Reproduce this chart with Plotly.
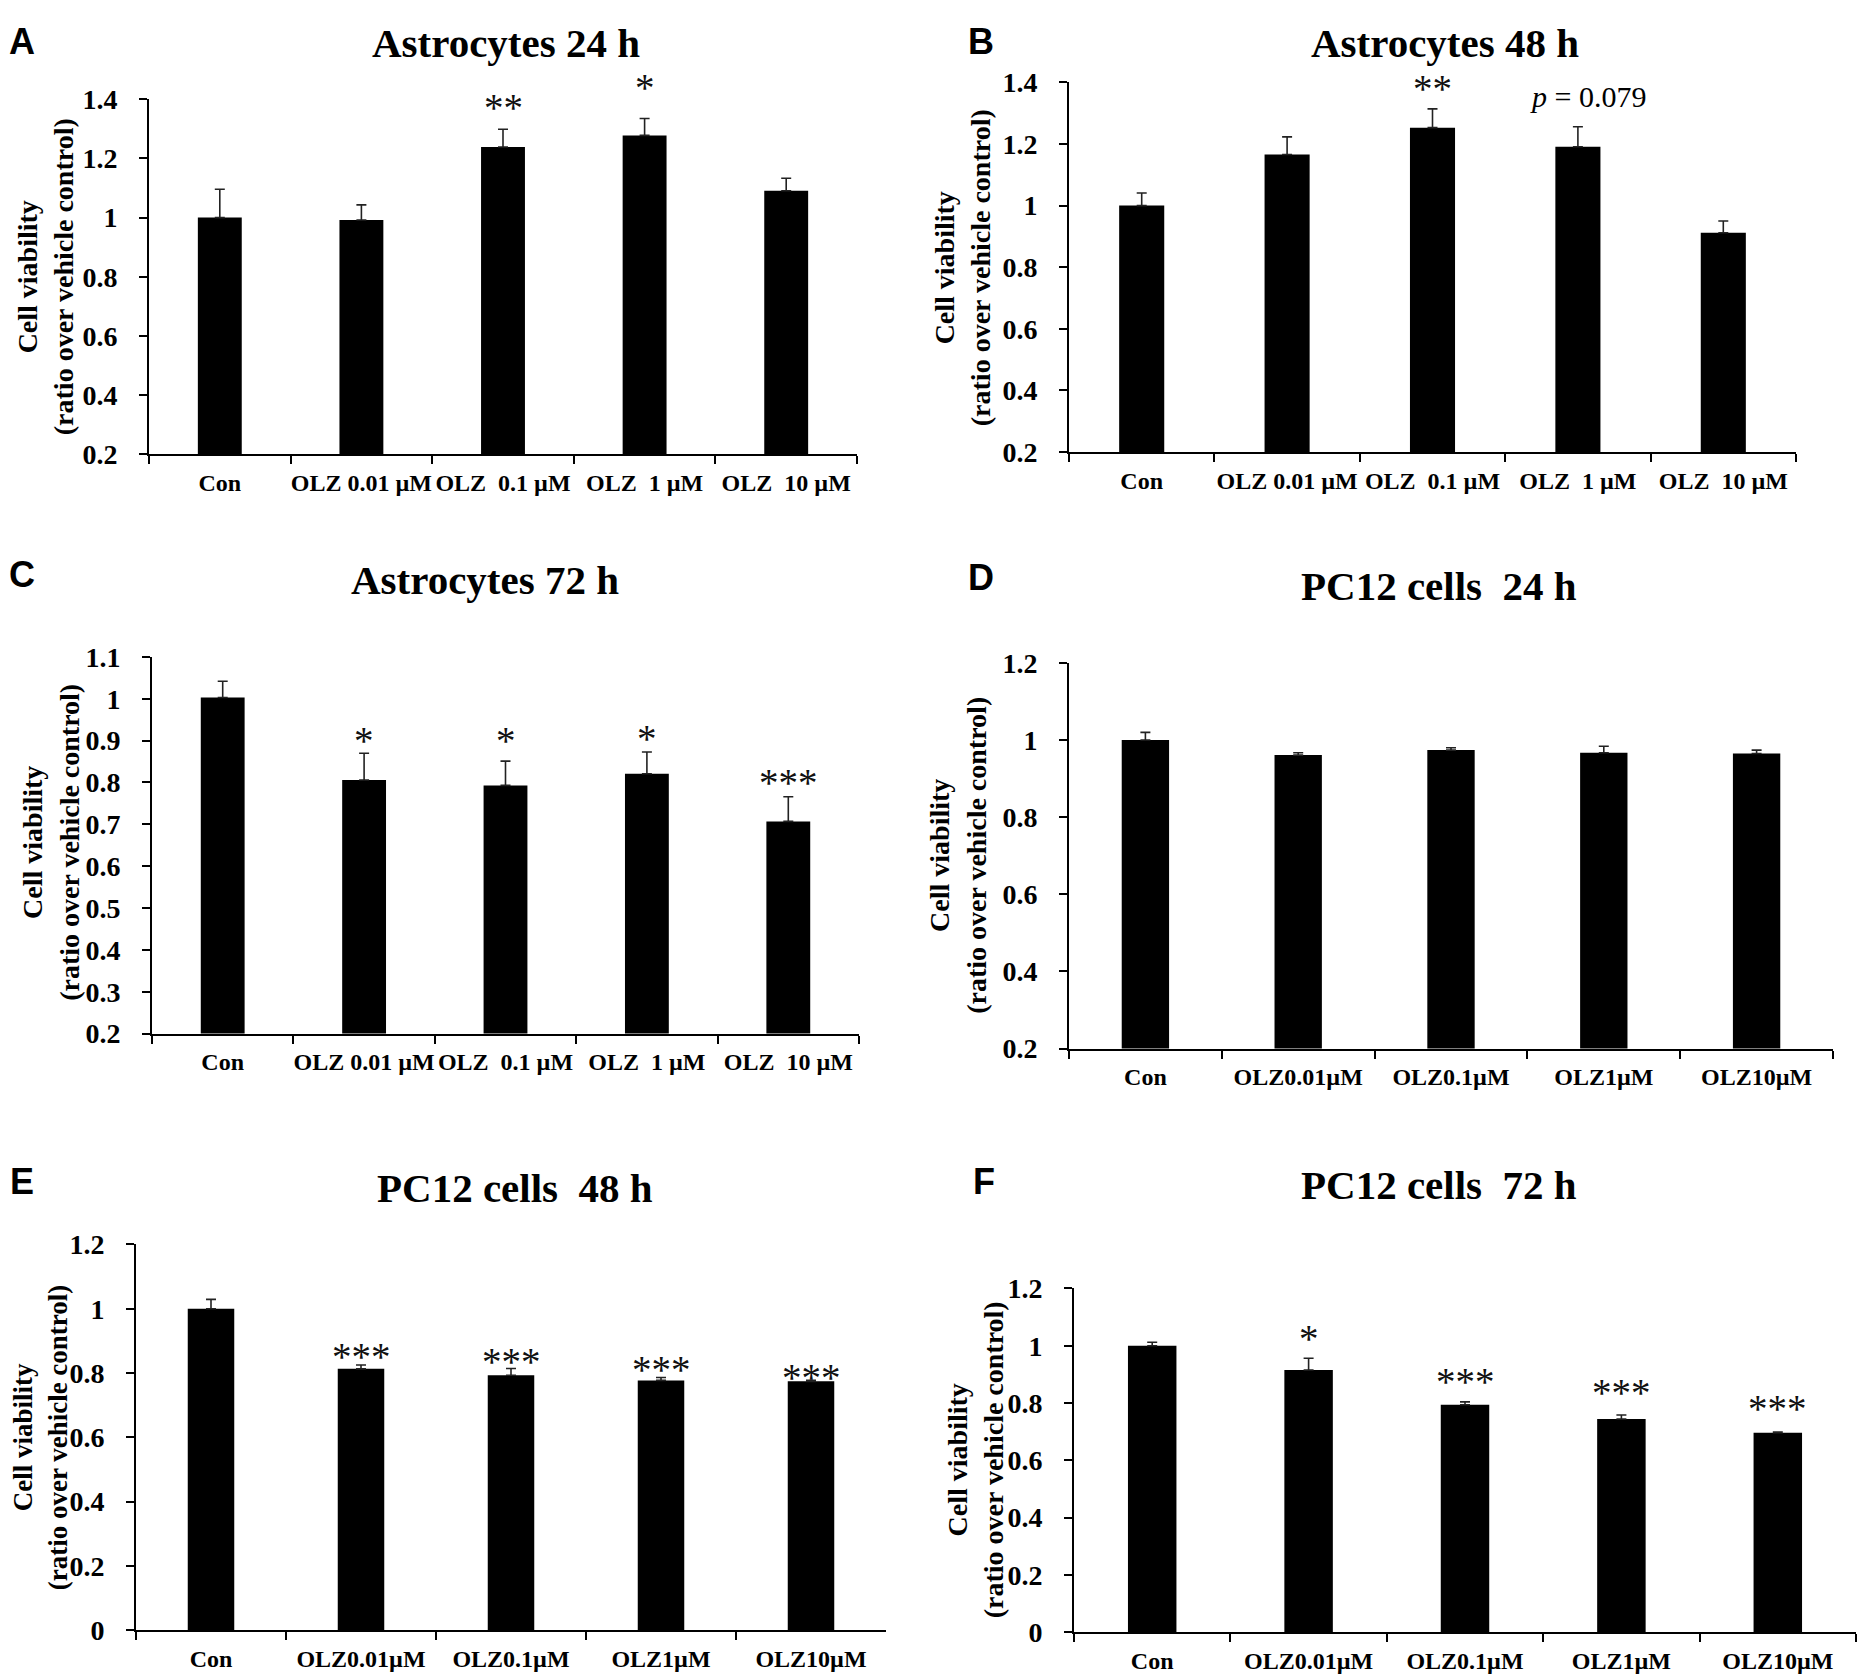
import plotly.graph_objects as go

# the picture is taken about 24px below the page top and a little taller than the reference,
# so reference pixel positions are mapped with a small vertical stretch
OFF_X, OFF_Y = 8, 24
Y_STRETCH = 1.018
W, H = 1866 - 2 * OFF_X, 1679
SERIF = "Liberation Serif"
SANS = "Liberation Sans"

astro_labels = ["Con", "OLZ 0.01 µM", "OLZ\u00a0 0.1 µM", "OLZ\u00a0 1 µM", "OLZ\u00a0 10 µM"]
pc12_labels = ["Con", "OLZ0.01µM", "OLZ0.1µM", "OLZ1µM", "OLZ10µM"]

astro_24h_mean = [1.0, 0.992, 1.239, 1.278, 1.091]
astro_24h_err = [0.096, 0.051, 0.060, 0.057, 0.042]
astro_48h_mean = [1.0, 1.166, 1.253, 1.191, 0.912]
astro_48h_err = [0.041, 0.057, 0.061, 0.065, 0.038]
astro_72h_mean = [1.003, 0.806, 0.793, 0.821, 0.707]
astro_72h_err = [0.039, 0.064, 0.058, 0.052, 0.059]
pc12_24h_mean = [1.0, 0.961, 0.974, 0.967, 0.965]
pc12_24h_err = [0.020, 0.006, 0.006, 0.017, 0.009]
pc12_48h_mean = [1.0, 0.813, 0.793, 0.777, 0.774]
pc12_48h_err = [0.029, 0.012, 0.021, 0.009, 0.003]
pc12_72h_mean = [1.0, 0.915, 0.794, 0.744, 0.696]
pc12_72h_err = [0.012, 0.041, 0.010, 0.014, 0.003]

# significance marks: (category index, text, y)
astro_24h_sig = [(2, "**", 1.389), (3, "*", 1.457)]
astro_48h_sig = [(2, "**", 1.395)]
astro_72h_sig = [(1, "*", 0.913), (2, "*", 0.913), (3, "*", 0.918), (4, "***", 0.813)]
pc12_24h_sig = []
pc12_48h_sig = [(1, "***", 0.867), (2, "***", 0.851), (3, "***", 0.826), (4, "***", 0.802)]
pc12_72h_sig = [(1, "*", 1.043), (2, "***", 0.892), (3, "***", 0.853), (4, "***", 0.798)]

# panel boxes in reference pixels: x0, x1, ytop, ybottom
panels = [
    dict(letter="A", title="Astrocytes 24 h", labels=astro_labels, mean=astro_24h_mean, err=astro_24h_err,
         sig=astro_24h_sig, yr=[0.2, 1.4], dt=0.2, box=(149, 857, 100, 455),
         title_xy=(506, 20), letter_xy=(22, 20), ytitle_xy=(45, 278), ytitle_size=28),
    dict(letter="B", title="Astrocytes 48 h", labels=astro_labels, mean=astro_48h_mean, err=astro_48h_err,
         sig=astro_48h_sig, yr=[0.2, 1.4], dt=0.2, box=(1069, 1796, 83, 453),
         title_xy=(1445, 22), letter_xy=(981, 20), ytitle_xy=(962, 268), ytitle_size=28),
    dict(letter="C", title="Astrocytes 72 h", labels=astro_labels, mean=astro_72h_mean, err=astro_72h_err,
         sig=astro_72h_sig, yr=[0.2, 1.1], dt=0.1, box=(152, 859, 658, 1035),
         title_xy=(485, 581), letter_xy=(22, 576), ytitle_xy=(51, 844), ytitle_size=28),
    dict(letter="D", title="PC12 cells\u00a0 24 h", labels=pc12_labels, mean=pc12_24h_mean, err=pc12_24h_err,
         sig=pc12_24h_sig, yr=[0.2, 1.2], dt=0.2, box=(1069, 1833, 664, 1050),
         title_xy=(1439, 587), letter_xy=(981, 579), ytitle_xy=(958, 857), ytitle_size=28),
    dict(letter="E", title="PC12 cells\u00a0 48 h", labels=pc12_labels, mean=pc12_48h_mean, err=pc12_48h_err,
         sig=pc12_48h_sig, yr=[0, 1.2], dt=0.2, box=(136, 886, 1246, 1632),
         title_xy=(515, 1190), letter_xy=(22, 1183), ytitle_xy=(40, 1439), ytitle_size=27),
    dict(letter="F", title="PC12 cells\u00a0 72 h", labels=pc12_labels, mean=pc12_72h_mean, err=pc12_72h_err,
         sig=pc12_72h_sig, yr=[0, 1.2], dt=0.2, box=(1074, 1856, 1290, 1634),
         title_xy=(1439, 1187), letter_xy=(984, 1183), ytitle_xy=(975, 1462), ytitle_size=28),
]


def px(x):
    return min(1.0, max(0.0, (x - OFF_X) / W))


def py(y, top_pad=0):
    fy = max(Y_STRETCH * y - OFF_Y, top_pad)
    return min(1.0, max(0.0, 1 - fy / H))


fig = go.Figure()
annotations = []
layout_axes = {}

for i, p in enumerate(panels, start=1):
    sx = "" if i == 1 else str(i)
    x0, x1, yt, yb = p["box"]
    r0, r1 = p["yr"]
    fig.add_trace(go.Bar(
        x=p["labels"], y=p["mean"], width=0.31,
        marker=dict(color="black", line=dict(width=0)),
        error_y=dict(type="data", array=p["err"], arrayminus=[0] * len(p["err"]), symmetric=False,
                     color="#222222", thickness=1.6, width=5),
        xaxis="x" + sx, yaxis="y" + sx, showlegend=False,
    ))
    layout_axes["xaxis" + sx] = dict(
        domain=[px(x0), px(x1)], anchor="y" + sx, type="category", range=[-0.5, 4.5],
        tickson="boundaries", ticks="outside", ticklen=8, tickwidth=2, tickcolor="black", tickangle=0,
        showline=True, linecolor="black", linewidth=2, showgrid=False, zeroline=False,
        tickfont=dict(family=SERIF, size=24, color="black", weight="bold"), ticklabelstandoff=6,
    )
    layout_axes["yaxis" + sx] = dict(
        domain=[py(yb), py(yt)], anchor="x" + sx, range=p["yr"], dtick=p["dt"], tick0=0,
        ticks="outside", ticklen=8, tickwidth=2, tickcolor="black",
        showline=True, linecolor="black", linewidth=2, showgrid=False, zeroline=False,
        tickfont=dict(family=SERIF, size=28, color="black", weight="bold"), ticklabelstandoff=16,
    )
    annotations.append(dict(
        text=p["title"], x=px(p["title_xy"][0]), y=py(p["title_xy"][1], 20), xref="paper", yref="paper",
        xanchor="center", yanchor="middle", showarrow=False,
        font=dict(family=SERIF, size=41, color="black", weight="bold"),
    ))
    annotations.append(dict(
        text=p["letter"], x=px(p["letter_xy"][0]), y=py(p["letter_xy"][1], 19), xref="paper", yref="paper",
        xanchor="center", yanchor="middle", showarrow=False,
        font=dict(family=SANS, size=36, color="black", weight="bold"),
    ))
    annotations.append(dict(
        text="Cell viability<br>(ratio over vehicle control)", textangle=-90,
        x=px(p["ytitle_xy"][0]), y=py(p["ytitle_xy"][1]), xref="paper", yref="paper",
        xanchor="center", yanchor="middle", showarrow=False,
        font=dict(family=SERIF, size=p["ytitle_size"], color="black", weight="bold"),
    ))
    # significance marks, placed on the axis scale (may sit above the top tick)
    for idx, mark, yv in p["sig"]:
        annotations.append(dict(
            text=mark, x=p["labels"][idx], y=(yv - r0) / (r1 - r0), xref="x" + sx, yref="y" + sx + " domain",
            xanchor="center", yanchor="middle", showarrow=False, yshift=-5,
            font=dict(family=SERIF, size=39, color="#111111"),
        ))

# p-value note on panel B
annotations.append(dict(
    text="<i>p</i> = 0.079", x=3.07, y=1.355, xref="x2", yref="y2",
    xanchor="center", yanchor="middle", showarrow=False,
    font=dict(family=SERIF, size=30, color="black"),
))

fig.update_layout(
    width=W, height=H, margin=dict(l=0, r=0, t=0, b=0),
    paper_bgcolor="white", plot_bgcolor="white",
    annotations=annotations, **layout_axes,
)

fig.write_html("out.html")
